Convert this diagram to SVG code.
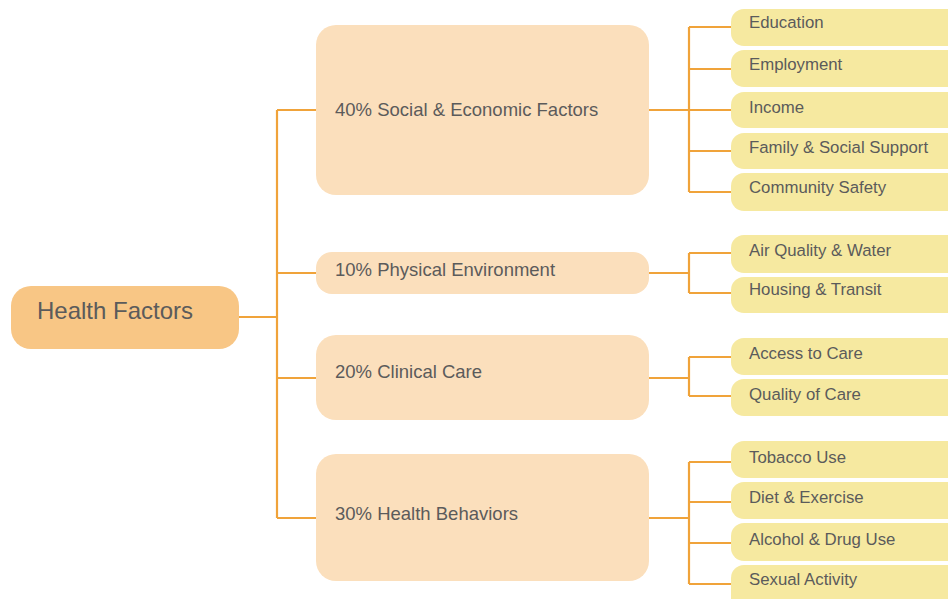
<svg xmlns="http://www.w3.org/2000/svg" width="948" height="599" viewBox="0 0 948 599">
<style>
text{font-family:"Liberation Sans",Arial,sans-serif;fill:#5b5b5b}
.root{fill:#f8c685}
.mid{fill:#fbdfbc}
.leaf{fill:#f6e9a0}
.t1{font-size:24px}
.t2{font-size:18.5px}
.t3{font-size:16.8px}
.c{fill:none;stroke:#f0a33a;stroke-width:2.2}
</style>
<rect width="948" height="599" fill="#ffffff"/>
<g id="connectors">
<path class="c" d="M239 317H277M277 110V518M277 110H316M277 273H316M277 378H316M277 518H316"/>
<path class="c" d="M649 110H689M689 27V192M689 27H731M689 69H731M689 110H731M689 151H731M689 192H731"/>
<path class="c" d="M649 273H689M689 253V293M689 253H731M689 293H731"/>
<path class="c" d="M649 378H689M689 357V396M689 357H731M689 396H731"/>
<path class="c" d="M649 518H689M689 462V584M689 462H731M689 502H731M689 543H731M689 584H731"/>
</g>
<g id="root"><rect class="root" x="11" y="286" width="228" height="63" rx="20"/><text class="t1" x="37" y="319">Health Factors</text></g>
<g id="social"><rect class="mid" x="316" y="25" width="333" height="170" rx="20"/><text class="t2" x="335" y="116">40% Social &amp; Economic Factors</text></g>
<g id="physical"><rect class="mid" x="316" y="252" width="333" height="42" rx="16"/><text class="t2" x="335" y="276">10% Physical Environment</text></g>
<g id="clinical"><rect class="mid" x="316" y="335" width="333" height="85" rx="20"/><text class="t2" x="335" y="378">20% Clinical Care</text></g>
<g id="behaviors"><rect class="mid" x="316" y="454" width="333" height="127" rx="20"/><text class="t2" x="335" y="520">30% Health Behaviors</text></g>
<g id="education"><rect class="leaf" x="731" y="9" width="240" height="37" rx="13"/><text class="t3" x="749" y="28">Education</text></g>
<g id="employment"><rect class="leaf" x="731" y="50" width="240" height="37" rx="13"/><text class="t3" x="749" y="70">Employment</text></g>
<g id="income"><rect class="leaf" x="731" y="92" width="240" height="36" rx="13"/><text class="t3" x="749" y="113">Income</text></g>
<g id="family"><rect class="leaf" x="731" y="133" width="240" height="36" rx="13"/><text class="t3" x="749" y="153">Family &amp; Social Support</text></g>
<g id="community"><rect class="leaf" x="731" y="173" width="240" height="38" rx="13"/><text class="t3" x="749" y="193">Community Safety</text></g>
<g id="air"><rect class="leaf" x="731" y="235" width="240" height="38" rx="13"/><text class="t3" x="749" y="256">Air Quality &amp; Water</text></g>
<g id="housing"><rect class="leaf" x="731" y="277" width="240" height="36" rx="13"/><text class="t3" x="749" y="295">Housing &amp; Transit</text></g>
<g id="access"><rect class="leaf" x="731" y="338" width="240" height="37" rx="13"/><text class="t3" x="749" y="359">Access to Care</text></g>
<g id="quality"><rect class="leaf" x="731" y="379" width="240" height="37" rx="13"/><text class="t3" x="749" y="400">Quality of Care</text></g>
<g id="tobacco"><rect class="leaf" x="731" y="441" width="240" height="37" rx="13"/><text class="t3" x="749" y="463">Tobacco Use</text></g>
<g id="diet"><rect class="leaf" x="731" y="482" width="240" height="37" rx="13"/><text class="t3" x="749" y="503">Diet &amp; Exercise</text></g>
<g id="alcohol"><rect class="leaf" x="731" y="523" width="240" height="38" rx="13"/><text class="t3" x="749" y="545">Alcohol &amp; Drug Use</text></g>
<g id="sexual"><rect class="leaf" x="731" y="565" width="240" height="50" rx="13"/><text class="t3" x="749" y="585">Sexual Activity</text></g>
</svg>
